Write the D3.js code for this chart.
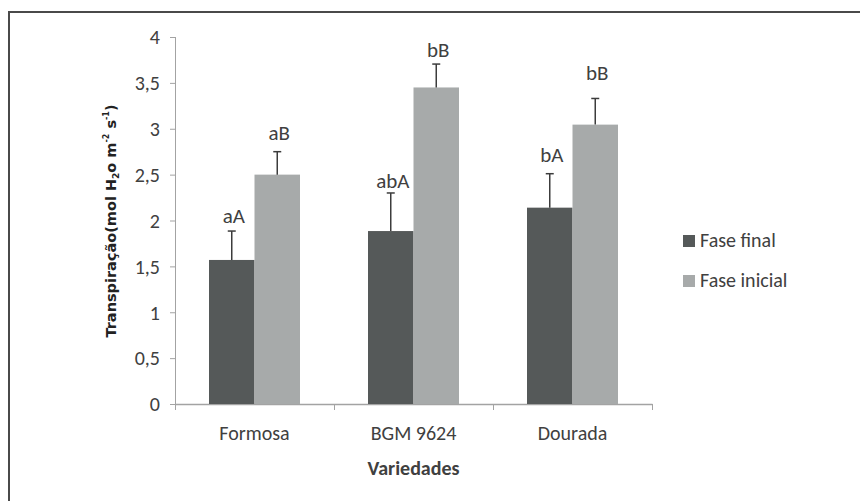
<!DOCTYPE html>
<html>
<head>
<meta charset="utf-8">
<script src="https://cdn.jsdelivr.net/npm/d3@7"></script>
<style>
  body { margin: 0; background: #fff; }
  .lbl { font-family: Carlito, "Liberation Sans Narrow", "DejaVu Sans Condensed", sans-serif; fill: #404040; }
</style>
</head>
<body>
<div class="chart"></div>
<script>
// data
var categories = ["Formosa", "BGM 9624", "Dourada"];
var series = ["Fase final", "Fase inicial"];
var finalValues = [1.57, 1.885, 2.14];
var finalErrors = [0.315, 0.415, 0.37];
var initialValues = [2.50, 3.45, 3.045];
var initialErrors = [0.25, 0.255, 0.285];
var finalLetters = ["aA", "abA", "bA"];
var initialLetters = ["aB", "bB", "bB"];
// where the letters sit, in axis units
var finalLetterLevel = [1.97, 2.35, 2.64];
var initialLetterLevel = [2.88, 3.78, 3.53];
var yTicks = [0, 0.5, 1, 1.5, 2, 2.5, 3, 3.5, 4];

var svgWidth = 860;
var svgHeight = 501;

var margin = { top: 37, right: 208, bottom: 97, left: 175 };
var width = svgWidth - margin.left - margin.right;
var height = svgHeight - margin.top - margin.bottom;

var colors = ["#555959", "#a7aaaa"];
var axisColor = "#a3a3a3";

var svg = d3.select(".chart")
  .append("svg")
  .attr("width", svgWidth)
  .attr("height", svgHeight);

// frame round the figure (runs off right and bottom)
svg.append("path")
  .attr("d", `M9,${svgHeight + 5} L9,12 L${svgWidth + 5},12`)
  .attr("fill", "none")
  .attr("stroke", "#4a4a4a")
  .attr("stroke-width", 2);

var chartGroup = svg.append("g")
  .attr("transform", `translate(${margin.left}, ${margin.top})`);

var x0 = d3.scaleBand().domain(categories).range([0, width]);
var barWidth = 45.5;
var inner = (x0.bandwidth() - 2 * barWidth) / 2;
var x1 = d3.scaleBand().domain(series).range([inner, inner + 2 * barWidth]);
var y = d3.scaleLinear().domain([0, 4]).range([height, 0]);
var xEdges = d3.scaleLinear().domain([0, categories.length]).range([0, width]);

// y axis
var leftAxis = d3.axisLeft(y)
  .tickValues(yTicks)
  .tickSize(5)
  .tickSizeOuter(0)
  .tickPadding(10)
  .tickFormat(d => String(d).replace(".", ","));

var yg = chartGroup.append("g").call(leftAxis);
yg.select(".domain").attr("stroke", axisColor).attr("d", `M0.5,0V${height + 5}`);
yg.selectAll(".tick line").attr("stroke", axisColor);
yg.selectAll(".tick text")
  .attr("class", "lbl")
  .attr("font-size", "20px")
  .attr("dy", "0.34em");

// x axis: line + ticks between categories
var edgeAxis = d3.axisBottom(xEdges)
  .tickValues(d3.range(categories.length + 1))
  .tickSize(6)
  .tickSizeOuter(0)
  .tickFormat("");
var eg = chartGroup.append("g")
  .attr("transform", `translate(0, ${height})`)
  .call(edgeAxis);
eg.select(".domain").attr("stroke", axisColor).attr("stroke-width", 1.5);
eg.selectAll(".tick line").attr("stroke", axisColor);

var bottomAxis = d3.axisBottom(x0).tickSize(0).tickPadding(22);
var xg = chartGroup.append("g")
  .attr("transform", `translate(0, ${height})`)
  .call(bottomAxis);
xg.select(".domain").remove();
xg.selectAll(".tick text")
  .attr("class", "lbl")
  .attr("font-size", "20px");

// bars
var rows = categories.map(function(c, i) {
  return [
    { cat: c, s: series[0], v: finalValues[i], e: finalErrors[i], t: finalLetters[i], lv: finalLetterLevel[i] },
    { cat: c, s: series[1], v: initialValues[i], e: initialErrors[i], t: initialLetters[i], lv: initialLetterLevel[i] }
  ];
});
var flat = d3.merge(rows);

var graph = chartGroup.append("g");

graph.selectAll("rect.bar")
  .data(flat)
  .enter()
  .append("rect")
  .attr("class", "bar")
  .attr("x", d => x0(d.cat) + x1(d.s))
  .attr("width", x1.bandwidth())
  .attr("y", d => y(d.v))
  .attr("height", d => y(0) - y(d.v))
  .attr("fill", (d, i) => colors[series.indexOf(d.s)]);

// error bars (upper only)
var cx = d => x0(d.cat) + x1(d.s) + x1.bandwidth() / 2;
var err = graph.selectAll("g.err")
  .data(flat)
  .enter()
  .append("g")
  .attr("class", "err")
  .attr("stroke", "#3c3c3c")
  .attr("stroke-width", 1.5);
err.append("line")
  .attr("x1", cx).attr("x2", cx)
  .attr("y1", d => y(d.v)).attr("y2", d => y(d.v + d.e));
err.append("line")
  .attr("x1", d => cx(d) - 4).attr("x2", d => cx(d) + 4)
  .attr("y1", d => y(d.v + d.e)).attr("y2", d => y(d.v + d.e));

// letters
graph.selectAll("text.letter")
  .data(flat)
  .enter()
  .append("text")
  .attr("class", "lbl")
  .attr("x", d => cx(d) + 2)
  .attr("y", d => y(d.lv))
  .attr("text-anchor", "middle")
  .attr("font-size", "21px")
  .text(d => d.t);

// legend
var legend = svg.append("g")
  .attr("transform", "translate(683, 235)");
var li = legend.selectAll("g")
  .data(series)
  .enter()
  .append("g")
  .attr("transform", (d, i) => `translate(0, ${i * 40})`);
li.append("rect")
  .attr("width", 12).attr("height", 12)
  .attr("fill", (d, i) => colors[i]);
li.append("text")
  .attr("class", "lbl")
  .attr("x", 17)
  .attr("y", 12)
  .attr("font-size", "20px")
  .text(d => d);

// axis titles
chartGroup.append("text")
  .attr("class", "lbl")
  .attr("x", width / 2)
  .attr("y", height + 71)
  .attr("text-anchor", "middle")
  .attr("font-size", "20px")
  .attr("font-weight", "bold")
  .attr("fill", "#222")
  .text("Variedades");

var yt = chartGroup.append("text")
  .attr("transform", `translate(${116 - margin.left}, ${221 - margin.top}) rotate(-90)`)
  .attr("text-anchor", "middle")
  .attr("font-family", "'DejaVu Sans', Verdana, sans-serif")
  .attr("font-weight", "bold")
  .attr("font-size", "14.5px")
  .attr("fill", "#222");
yt.append("tspan").text("Transpiração(mol H");
yt.append("tspan").attr("font-size", "9px").attr("dy", "3").text("2");
yt.append("tspan").attr("dy", "-3").text("o m");
yt.append("tspan").attr("font-size", "8px").attr("dy", "-7").text("-2");
yt.append("tspan").attr("dy", "7").text(" s");
yt.append("tspan").attr("font-size", "8px").attr("dy", "-7").text("-1");
yt.append("tspan").attr("dy", "7").text(")");
</script>
</body>
</html>
